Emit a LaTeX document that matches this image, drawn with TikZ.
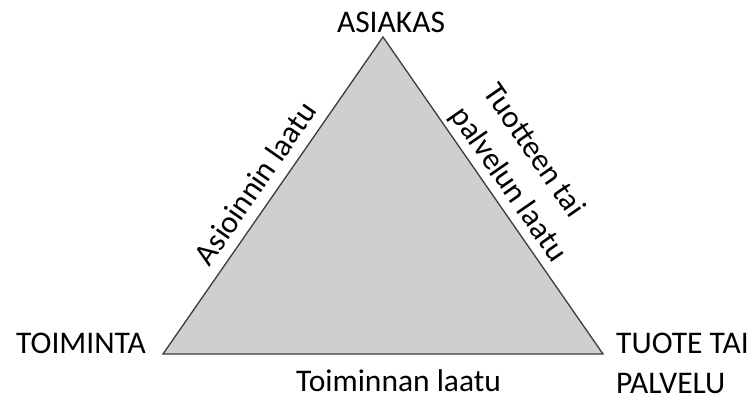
\documentclass[tikz,border=0pt]{standalone}
\usepackage{fontspec}
\setmainfont{Carlito}
\definecolor{trigray}{RGB}{208,206,206}
\definecolor{edgegray}{RGB}{60,60,60}
\tikzset{
  lbl/.style={font=\fontsize{31.5}{40}\selectfont, inner sep=0pt},
  side/.style={lbl, midway, sloped, above, align=left}
}
\begin{document}
\begin{tikzpicture}[x=1pt,y=-1pt]
    \useasboundingbox (0,0) rectangle (753,396);
    % corners of the triangle
    \coordinate (top) at (383,37);
    \coordinate (left) at (163,354);
    \coordinate (right) at (603,354);
    \draw[edgegray, line width=1.3pt, fill=trigray] (top) -- (left) -- (right) -- cycle;
    % corner labels
    \node[lbl, anchor=base] (asiakas) at (391,33) {ASIAKAS};
    \node[lbl, anchor=base east] (toiminta) at (146,353) {TOIMINTA};
    \node[lbl, anchor=base west, align=left] (tuote) at (616,393) {TUOTE TAI\\PALVELU};
    % side labels
    \path (left) -- (top) node[side, outer sep=11pt] (asiointi) {Asioinnin laatu};
    \path (top) -- (right) node[side, outer sep=5pt] (tuotelaatu) {Tuotteen tai\\palvelun laatu};
    \node[lbl, anchor=base west] (toimintalaatu) at (296,391) {Toiminnan laatu};
\end{tikzpicture}
\end{document}
